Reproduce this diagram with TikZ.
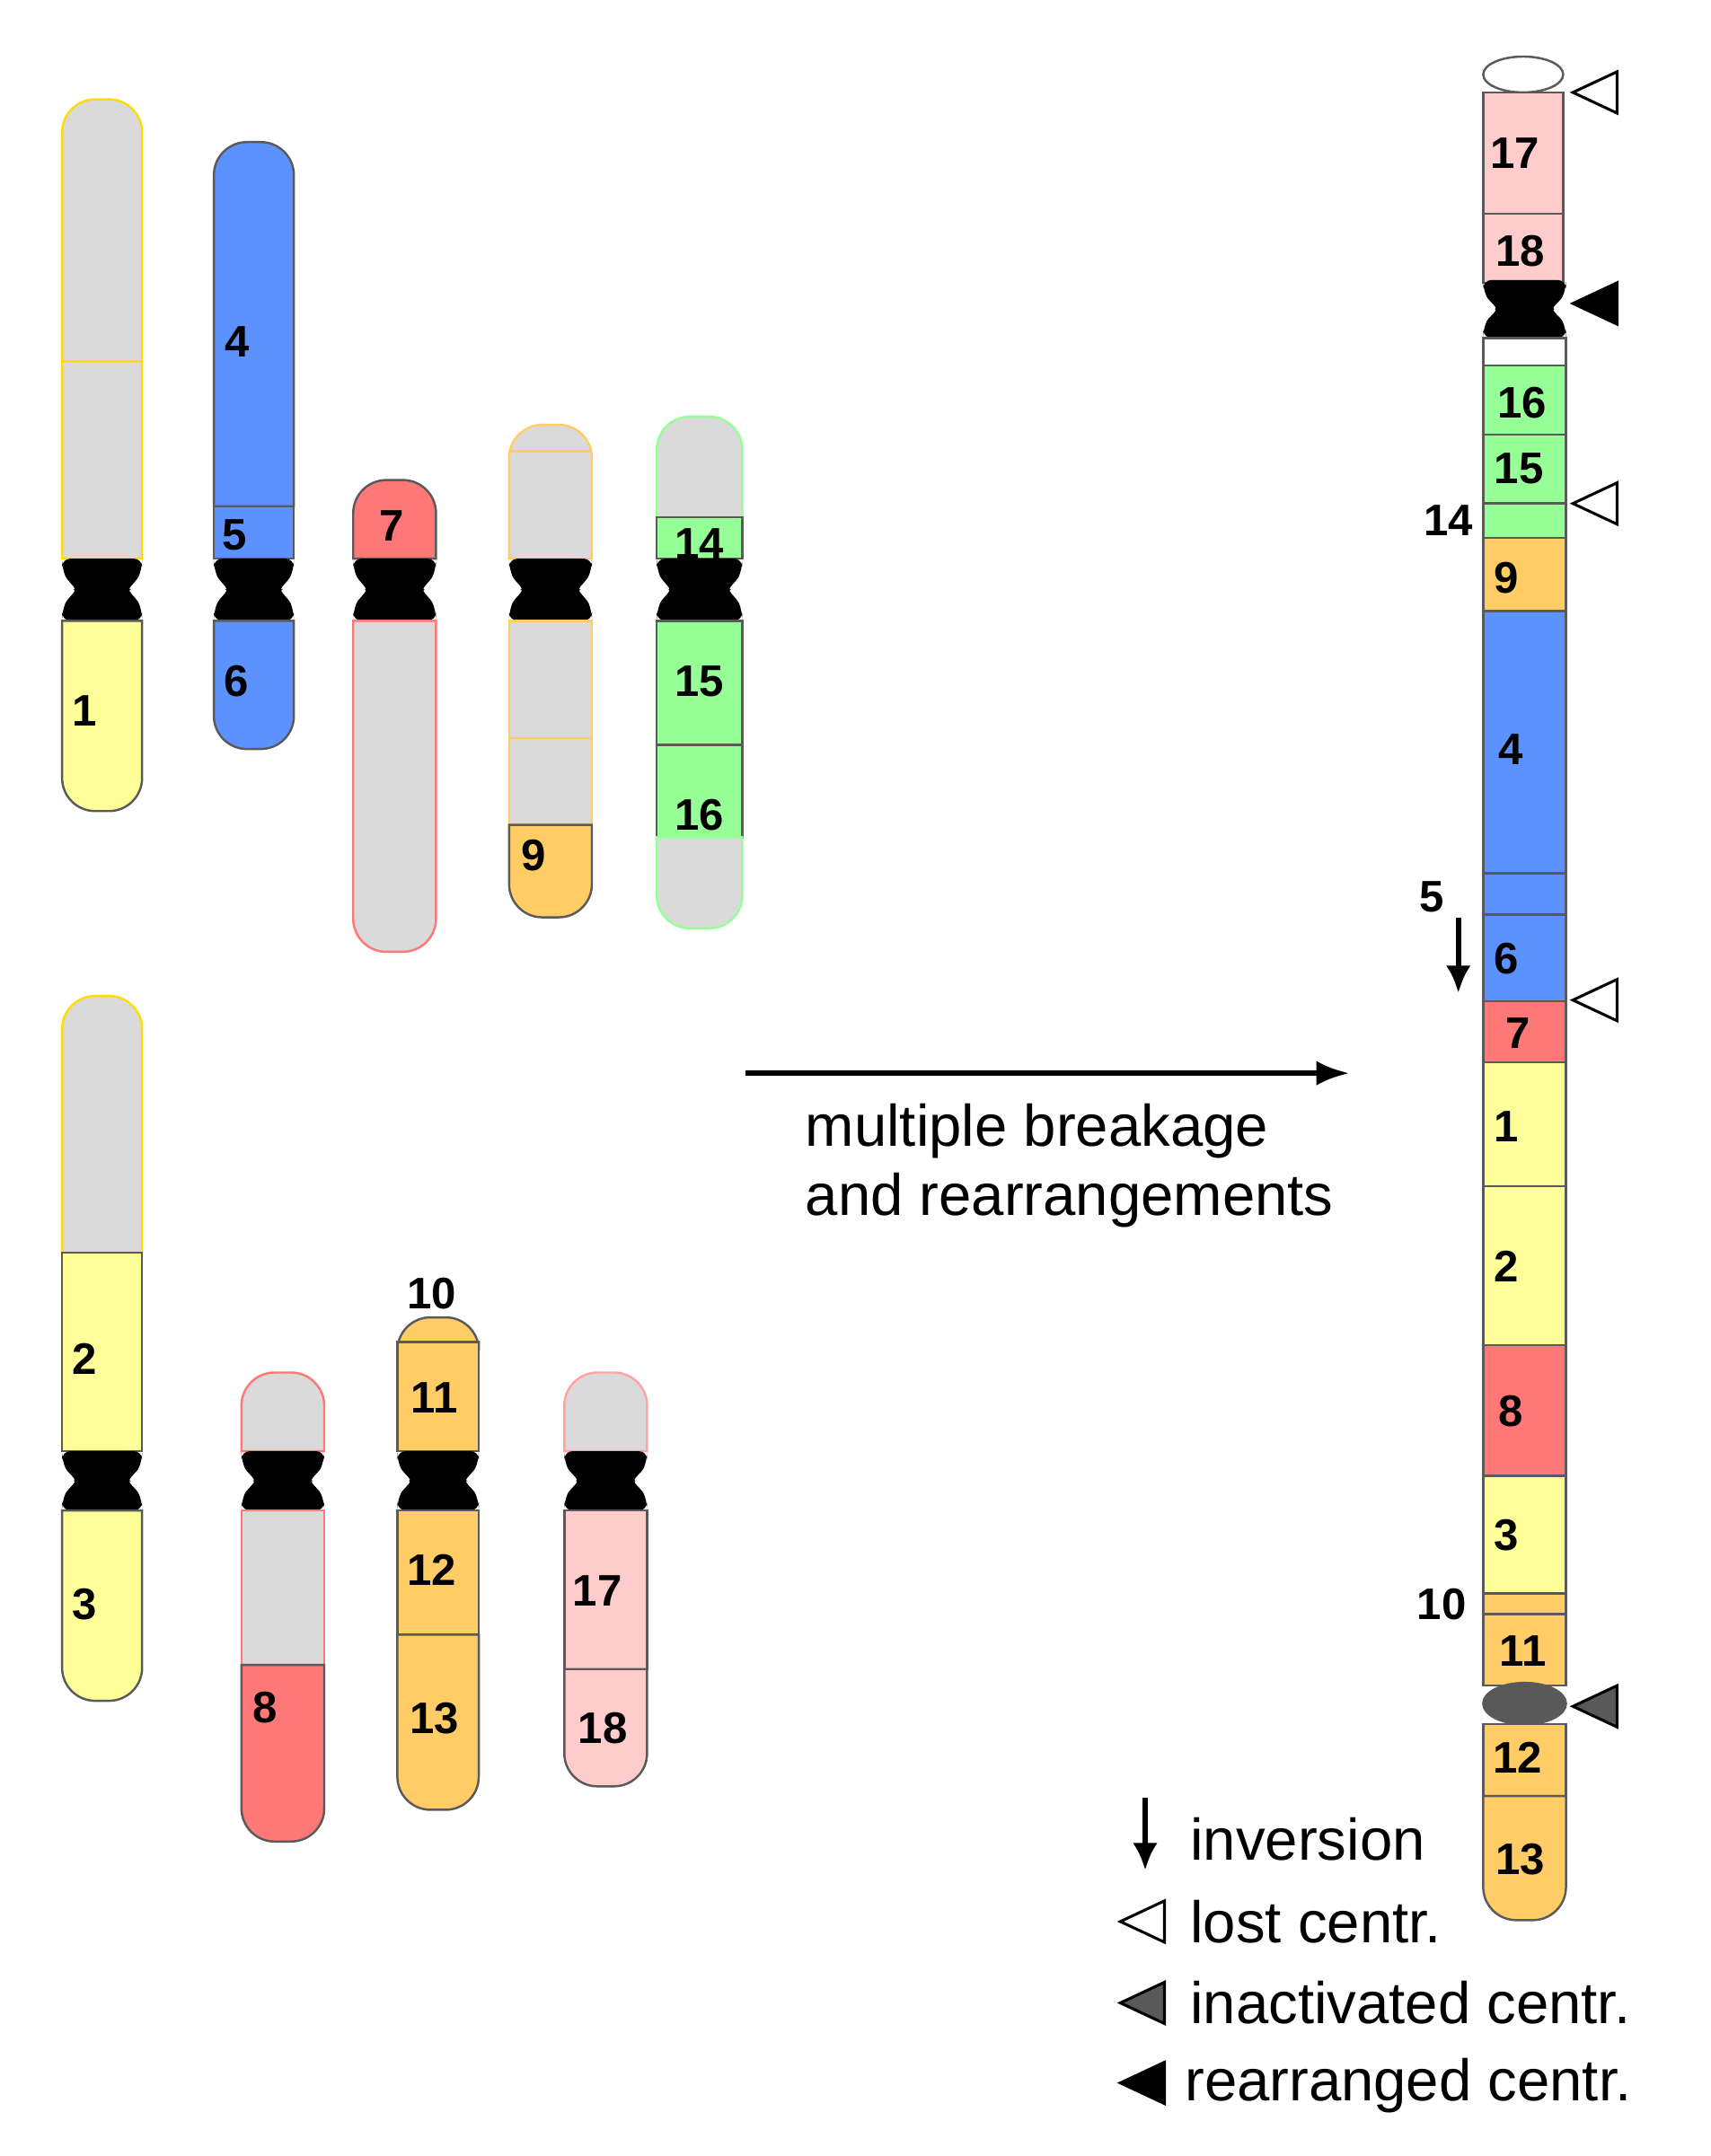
\documentclass[tikz,border=0pt]{standalone}
\usepackage{fontspec}
\setmainfont{Liberation Sans}
\usetikzlibrary{arrows.meta}
\begin{document}
\definecolor{cgray}{RGB}{218,218,218}
\definecolor{cyel}{RGB}{255,255,153}
\definecolor{cblue}{RGB}{92,146,255}
\definecolor{cred}{RGB}{255,120,120}
\definecolor{corg}{RGB}{255,204,102}
\definecolor{cgrn}{RGB}{150,255,150}
\definecolor{cpink}{RGB}{255,204,204}
\definecolor{cedge}{RGB}{90,90,90}
\newcommand\cenx[4]{\fill[black,rounded corners=6] (#1,#3) -- (#2,#3) -- (#2,{#3+7}) .. controls ({#2-4},{(#3+#4)/2-6}) and ({#2-12},{(#3+#4)/2}) .. ({#2-14},{(#3+#4)/2}) -- ({#2-14},{(#3+#4)/2}) .. controls ({#2-12},{(#3+#4)/2}) and ({#2-4},{(#3+#4)/2+6}) .. (#2,{#4-7}) -- (#2,#4) -- (#1,#4) -- (#1,{#4-7}) .. controls ({#1+4},{(#3+#4)/2+6}) and ({#1+12},{(#3+#4)/2}) .. ({#1+14},{(#3+#4)/2}) .. controls ({#1+12},{(#3+#4)/2}) and ({#1+4},{(#3+#4)/2-6}) .. (#1,{#3+7}) -- cycle;}
\newcommand\topseg[6]{\draw[#5,fill=#6] (#1,#4) [rounded corners=24]-- (#1,#3) -- (#2,#3) [sharp corners]-- (#2,#4) -- cycle;}
\newcommand\botseg[6]{\draw[#5,fill=#6] (#1,#3) [rounded corners=24]-- (#1,#4) -- (#2,#4) [sharp corners]-- (#2,#3) -- cycle;}
\newcommand\seg[6]{\draw[#5,fill=#6] (#1,#3) rectangle (#2,#4);}
\begin{tikzpicture}[x=1pt,y=-1pt,line width=1.6pt,
  num/.style={font=\fontsize{32}{36}\selectfont\bfseries,inner sep=0pt},
  txt/.style={font=\fontsize{42.5}{48}\selectfont,inner sep=0pt,anchor=west},
  tri/.style={line width=2pt,line join=miter}]
\useasboundingbox (0,0) rectangle (1240,1563);
\tikzset{E/.style={draw=cedge}}
% ---- chr 1
\topseg{45}{103}{72}{405}{draw=yellow!80!orange}{cgray}
\draw[yellow!80!orange] (45,262) -- (103,262);
\cenx{45}{103}{405}{450}
\botseg{45}{103}{450}{588}{E}{cyel}
\node[num] (n1) at (61,515) {1};
% ---- chr 4/5/6
\topseg{155}{213}{103}{367}{E}{cblue}
\seg{155}{213}{367}{405}{E}{cblue}
\cenx{155}{213}{405}{450}
\botseg{155}{213}{450}{543}{E}{cblue}
\node[num] (n4) at (172,248) {4};
\node[num] (n5) at (170,388) {5};
\node[num] (n6) at (171,494) {6};
% ---- chr 7
\topseg{256}{316}{348}{405}{E}{cred}
\cenx{256}{316}{405}{450}
\botseg{256}{316}{450}{690}{draw=cred}{cgray}
\node[num] (n7) at (284,381) {7};
% ---- chr 9
\topseg{369}{429}{308}{405}{draw=corg}{cgray}
\draw[corg] (369,327) -- (429,327);
\cenx{369}{429}{405}{450}
\seg{369}{429}{450}{535}{draw=corg}{cgray}
\seg{369}{429}{535}{598}{draw=corg}{cgray}
\botseg{369}{429}{598}{665}{E}{corg}
\node[num] (n9) at (387,620) {9};
% ---- chr 14
\topseg{476}{538}{302}{375}{draw=cgrn}{cgray}
\seg{476}{538}{375}{405}{E}{cgrn}
\cenx{476}{538}{405}{450}
\seg{476}{538}{450}{540}{E}{cgrn}
\seg{476}{538}{540}{607}{E}{cgrn}
\botseg{476}{538}{607}{673}{draw=cgrn}{cgray}
\node[num] (n14) at (507,394) {14};
\node[num] (n15) at (507,494) {15};
\node[num] (n16) at (507,591) {16};
% ---- chr 2/3
\topseg{45}{103}{722}{908}{draw=yellow!80!orange}{cgray}
\seg{45}{103}{908}{1052}{E}{cyel}
\cenx{45}{103}{1052}{1095}
\botseg{45}{103}{1095}{1233}{E}{cyel}
\node[num] (n2) at (61,985) {2};
\node[num] (n3) at (61,1163) {3};
% ---- chr 8
\topseg{175}{235}{995}{1052}{draw=cred}{cgray}
\cenx{175}{235}{1052}{1095}
\seg{175}{235}{1095}{1207}{draw=cred}{cgray}
\botseg{175}{235}{1207}{1335}{E}{cred}
\node[num] (n8) at (192,1238) {8};
% ---- chr 10-13
\topseg{288}{347}{955}{973}{E}{corg}
\seg{288}{347}{973}{1052}{E}{corg}
\cenx{288}{347}{1052}{1095}
\seg{288}{347}{1095}{1185}{E}{corg}
\botseg{288}{347}{1185}{1312}{E}{corg}
\node[num] (n10) at (313,938) {10};
\node[num] (n11) at (315,1013) {11};
\node[num] (n12) at (313,1138) {12};
\node[num] (n13) at (315,1246) {13};
% ---- chr 17/18
\topseg{409}{469}{995}{1052}{draw=cpink!80!red}{cgray}
\cenx{409}{469}{1052}{1095}
\seg{409}{469}{1095}{1210}{E}{cpink}
\botseg{409}{469}{1210}{1295}{E}{cpink}
\node[num] (n17) at (433,1153) {17};
\node[num] (n18) at (437,1253) {18};
% ---- arrow
\coordinate (a1) at (540,778); \coordinate (a2) at (978,778);
\draw[line width=4pt,-{Latex[length=24pt,width=18pt]}] (a1) -- (a2);
\node[txt] (t1) at (583,820) {multiple breakage};
\node[txt] (t2) at (583,870) {and rearrangements};
% ---- derived chromosome
\draw[E,fill=white] (1104,54) ellipse (29 and 13);
\seg{1075}{1133}{67}{155}{E}{cpink}
\seg{1075}{1133}{155}{205}{E}{cpink}
\cenx{1075}{1135}{203}{245}
\seg{1075}{1135}{245}{265}{E}{white}
\seg{1075}{1135}{265}{315}{E}{cgrn}
\seg{1075}{1135}{315}{365}{E}{cgrn}
\seg{1075}{1135}{365}{390}{E}{cgrn}
\seg{1075}{1135}{390}{443}{E}{corg}
\seg{1075}{1135}{443}{633}{E}{cblue}
\seg{1075}{1135}{633}{663}{E}{cblue}
\seg{1075}{1135}{663}{726}{E}{cblue}
\seg{1075}{1135}{726}{770}{E}{cred}
\seg{1075}{1135}{770}{860}{E}{cyel}
\seg{1075}{1135}{860}{975}{E}{cyel}
\seg{1075}{1135}{975}{1070}{E}{cred}
\seg{1075}{1135}{1070}{1155}{E}{cyel}
\seg{1075}{1135}{1155}{1170}{E}{corg}
\seg{1075}{1135}{1170}{1222}{E}{corg}
\draw[E,fill=black!65] (1105,1235) ellipse (30 and 15);
\seg{1075}{1135}{1250}{1302}{E}{corg}
\botseg{1075}{1135}{1302}{1392}{E}{corg}
\node[num] (r17) at (1098,111) {17};
\node[num] (r18) at (1102,182) {18};
\node[num] (r16) at (1103,292) {16};
\node[num] (r15) at (1101,340) {15};
\node[num] (r14) at (1050,377) {14};
\node[num] (r9) at (1092,419) {9};
\node[num] (r4) at (1095,543) {4};
\node[num] (r5) at (1038,650) {5};
\node[num] (r6) at (1092,695) {6};
\node[num] (r7) at (1100,749) {7};
\node[num] (r1) at (1092,817) {1};
\node[num] (r2) at (1092,918) {2};
\node[num] (r8) at (1095,1023) {8};
\node[num] (r3) at (1092,1113) {3};
\node[num] (r10) at (1045,1163) {10};
\node[num] (r11) at (1104,1197) {11};
\node[num] (r12) at (1100,1274) {12};
\node[num] (r13) at (1102,1348) {13};
\draw[tri,fill=white] (1140,67) -- (1172,52) -- (1172,82) -- cycle;
\draw[tri,fill=black] (1140,220) -- (1172,205) -- (1172,235) -- cycle;
\draw[tri,fill=white] (1140,365) -- (1172,350) -- (1172,380) -- cycle;
\draw[tri,fill=white] (1140,725) -- (1172,710) -- (1172,740) -- cycle;
\draw[tri,fill=black!65] (1140,1237) -- (1172,1222) -- (1172,1252) -- cycle;
\coordinate (i1) at (1057,665); \coordinate (i2) at (1057,720);
\draw[line width=4pt,-{Latex[length=20pt,width=18pt]}] (i1) -- (i2);
\coordinate (l1) at (830,1303); \coordinate (l2) at (830,1356);
\draw[line width=4pt,-{Latex[length=20pt,width=18pt]}] (l1) -- (l2);
\node[txt] (g1) at (862,1333) {inversion};
\draw[tri,fill=white] (812,1393) -- (844,1378) -- (844,1408) -- cycle;
\node[txt] (g2) at (862,1393) {lost centr.};
\draw[tri,fill=black!65] (812,1452) -- (844,1437) -- (844,1467) -- cycle;
\node[txt] (g3) at (862,1452) {inactivated centr.};
\draw[tri,fill=black] (812,1510) -- (844,1495) -- (844,1525) -- cycle;
\node[txt] (g4) at (858,1512) {rearranged centr.};
\end{tikzpicture}
\end{document}
